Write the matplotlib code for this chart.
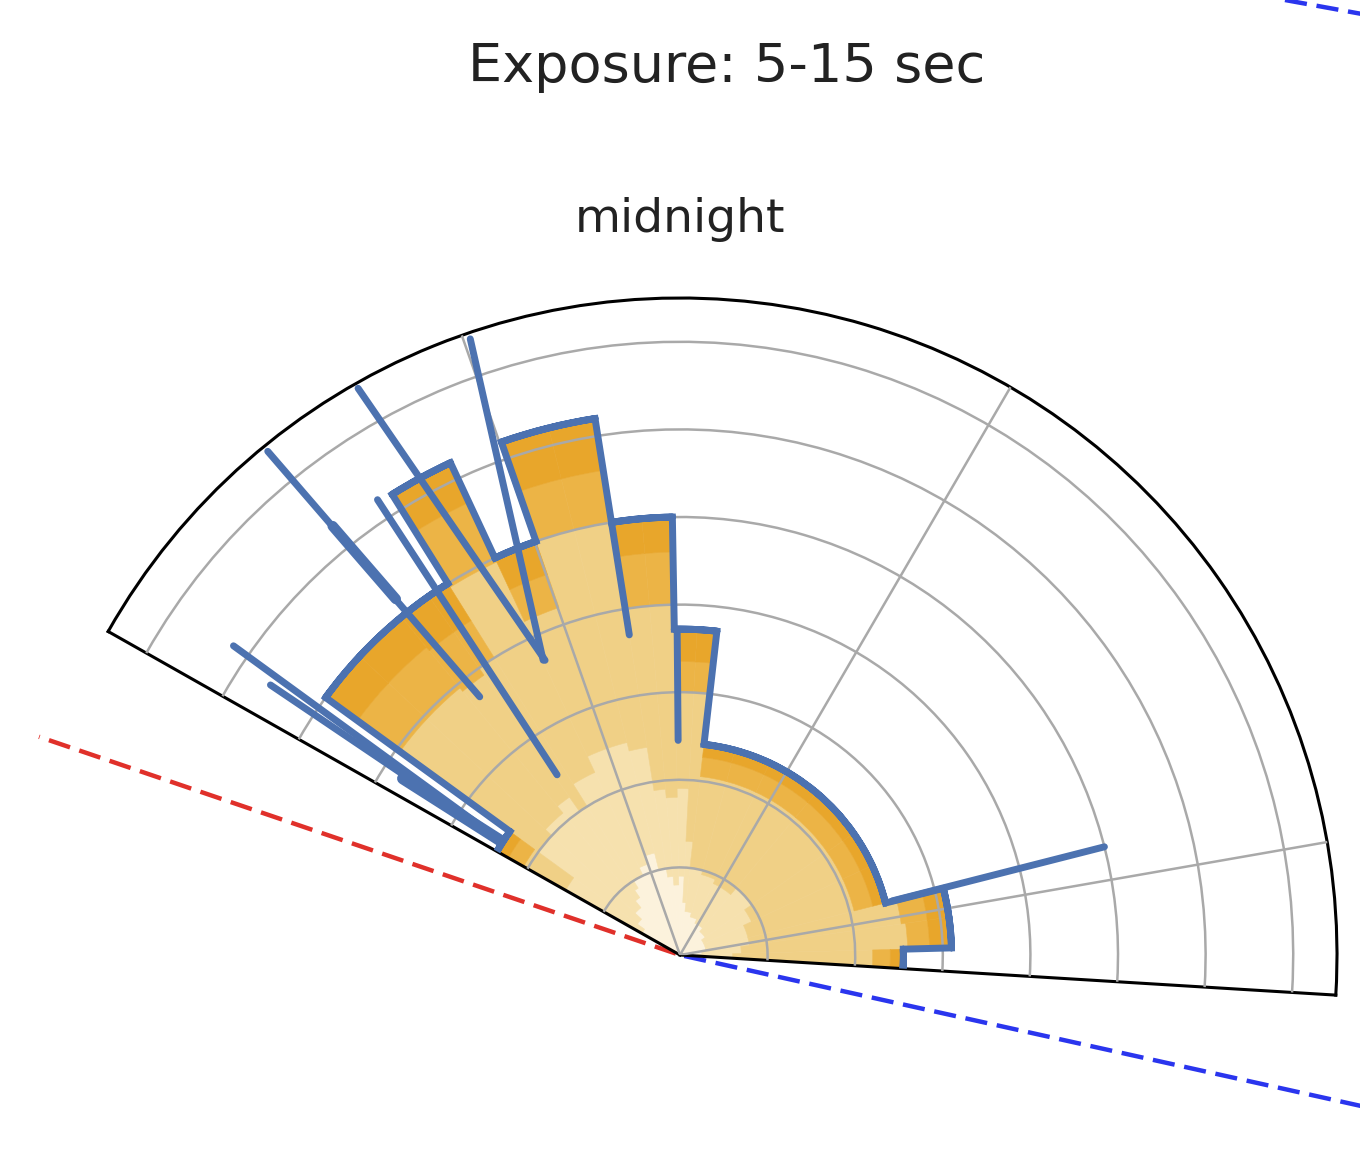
import numpy as np
import matplotlib
matplotlib.use("Agg")
import matplotlib.pyplot as plt
from matplotlib.lines import Line2D

W, H, DPI = 1360, 1155, 100

# angles in degrees, clockwise from midnight (top)
bin_edges = [-60.5, -54, -47, -39.5, -35, -32, -25, -19.2, -14, -9, -5, -1,
             3, 6.5, 15, 25, 40, 55, 65, 75.8, 82, 88.5, 93.5]
# cumulative tops of the stacked layers (inner -> outer)
cream_top = [0.5, 0.6, 0.7, 0.8, 0.9, 1.0, 1.1, 1.2, 1.0, 0.9, 0.8, 0.9,
             0.6, 0.5, 0.45, 0.4, 0.35, 0.3, 0.3, 0.3, 0.25, 0.2]
light_top = [1.5, 2.0, 2.1, 2.2, 2.0, 2.3, 2.5, 2.5, 2.4, 1.9, 1.8, 1.9,
             1.3, 1.0, 0.95, 0.9, 1.0, 0.9, 0.8, 0.8, 0.7, 0.6]
tan_top = [2.05, 3.95, 3.95, 3.9, 4.0, 4.95, 4.2, 5.0, 5.0, 4.0, 4.0, 3.0,
           3.0, 2.05, 2.05, 2.05, 2.05, 2.05, 2.05, 2.55, 2.6, 2.2]
dark_top = [2.25, 4.55, 4.55, 4.5, 4.5, 5.7, 4.6, 5.6, 5.6, 4.6, 4.6, 3.35,
            3.35, 2.27, 2.27, 2.27, 2.27, 2.27, 2.27, 2.85, 2.85, 2.4]
total = [2.4, 5.0, 5.0, 5.0, 5.0, 6.2, 5.0, 6.2, 6.2, 5.0, 5.0, 3.72,
         3.72, 2.42, 2.42, 2.42, 2.42, 2.42, 2.42, 3.1, 3.1, 2.55]

# narrow spikes of the outline
spike_t_in = [-57.4, -57.4, -57.5, -37.8, -38.6, -34.3, -24.6, -24.9, -9.0, -0.5, 75.7]
spike_r_in = [2.44, 2.44, 2.44, 3.73, 5.2, 2.49, 3.70, 3.71, 3.70, 2.45, 2.5]
spike_t_out = [-55.3, -56.6, -57.5, -39.3, -39.0, -33.6, -29.6, -18.8, -9.0, -0.5, 75.7]
spike_r_out = [6.2, 5.6, 3.75, 7.43, 6.3, 6.24, 7.44, 7.43, 5.0, 3.72, 5.0]
spike_lw = [5, 5, 8.5, 5, 7.5, 5, 5, 5, 5, 5, 5]

grid_angles = [-19.4, 30.2, 80.1]
evening_angle = -71.2
morning_angle = 102.5

layer_colors = ['#fcf2dc', '#f6e1ae', '#f0d086', '#ecb446', '#e8a62b']
blue = '#4c72b0'

fig = plt.figure(figsize=(W / DPI, H / DPI), dpi=DPI)
ax = fig.add_axes([0.05, 0.05, 0.9, 0.9 * W / H], projection='polar')
ax.set_theta_zero_location('N')
ax.set_theta_direction(-1)
ax.set_thetamin(bin_edges[0])
ax.set_thetamax(bin_edges[-1])
ax.set_rlim(0, 7.5)

edges = np.deg2rad(bin_edges)
centers = (edges[:-1] + edges[1:]) / 2
widths = np.diff(edges)

bottom = np.zeros(len(centers))
for tops, col in zip([cream_top, light_top, tan_top, dark_top, total], layer_colors):
    tops = np.array(tops)
    ax.bar(centers, tops - bottom, width=widths, bottom=bottom, color=col,
           edgecolor=col, linewidth=0.4, zorder=1)
    bottom = tops

# outline: arcs on top of every bin and radial steps between them
tot = np.array(total)
ax.bar(centers, 0, width=widths, bottom=tot, fill=False, edgecolor=blue,
       linewidth=5, joinstyle='round', zorder=3)
ax.vlines(edges[1:-1], np.minimum(tot[:-1], tot[1:]), np.maximum(tot[:-1], tot[1:]),
          colors=blue, linewidth=5, capstyle='projecting', zorder=3)
for ti, ri, to, ro, lw in zip(spike_t_in, spike_r_in, spike_t_out, spike_r_out, spike_lw):
    ax.plot(np.deg2rad([ti, to]), [ri, ro], color=blue, linewidth=lw,
            solid_capstyle='round', zorder=3)

ax.set_xticks(np.deg2rad(grid_angles))
ax.set_xticklabels([])
ax.set_yticks([1, 2, 3, 4, 5, 6, 7])
ax.set_yticklabels([])
ax.grid(True, color='#a9a9a9', linewidth=1.8)
ax.set_axisbelow(False)
for sp in ax.spines.values():
    sp.set_color('black')
    sp.set_linewidth(2.2)

ax.plot(np.deg2rad([evening_angle] * 2), [0.05, 7.73], color='#e0302a',
        linewidth=3.2, linestyle=(0, (5, 2.2)), clip_on=False, zorder=2)
ax.plot(np.deg2rad([morning_angle] * 2), [0.05, 9.0], color='#2a35ee',
        linewidth=3.2, linestyle=(0, (5, 2.2)), clip_on=False, zorder=2)

# place the wedge: apex at (680, 955) px, radius 657 px
pos = ax.get_position()
s = pos.width * W
c = ax.transData.transform((0, 0))
e = ax.transData.transform((np.pi / 2, 7.5))
scale = 657 / (e[0] - c[0])
fx = (c[0] - pos.x0 * W) / s
fy = (c[1] - pos.y0 * H) / s
s2 = s * scale
x0 = (680 - fx * s2) / W
y0 = ((H - 955) - fy * s2) / H
ax.set_position([x0, y0, s2 / W, s2 / H])

ax.text(0, 8.4, 'midnight', ha='center', va='center', fontsize=34,
        color='#222222', clip_on=False)
fig.text(727 / W, 1 - 82 / H, 'Exposure: 5-15 sec', ha='center', va='baseline',
         fontsize=39, color='#222222')

# edge of the neighbouring panel's dashed line
fig.add_artist(Line2D([1285 / W, 1362 / W], [1, 1 - 14 / H], color='#2a35ee',
                      linewidth=3.2, linestyle=(0, (5, 2.2)), transform=fig.transFigure))

fig.savefig('out.png', dpi=DPI)
